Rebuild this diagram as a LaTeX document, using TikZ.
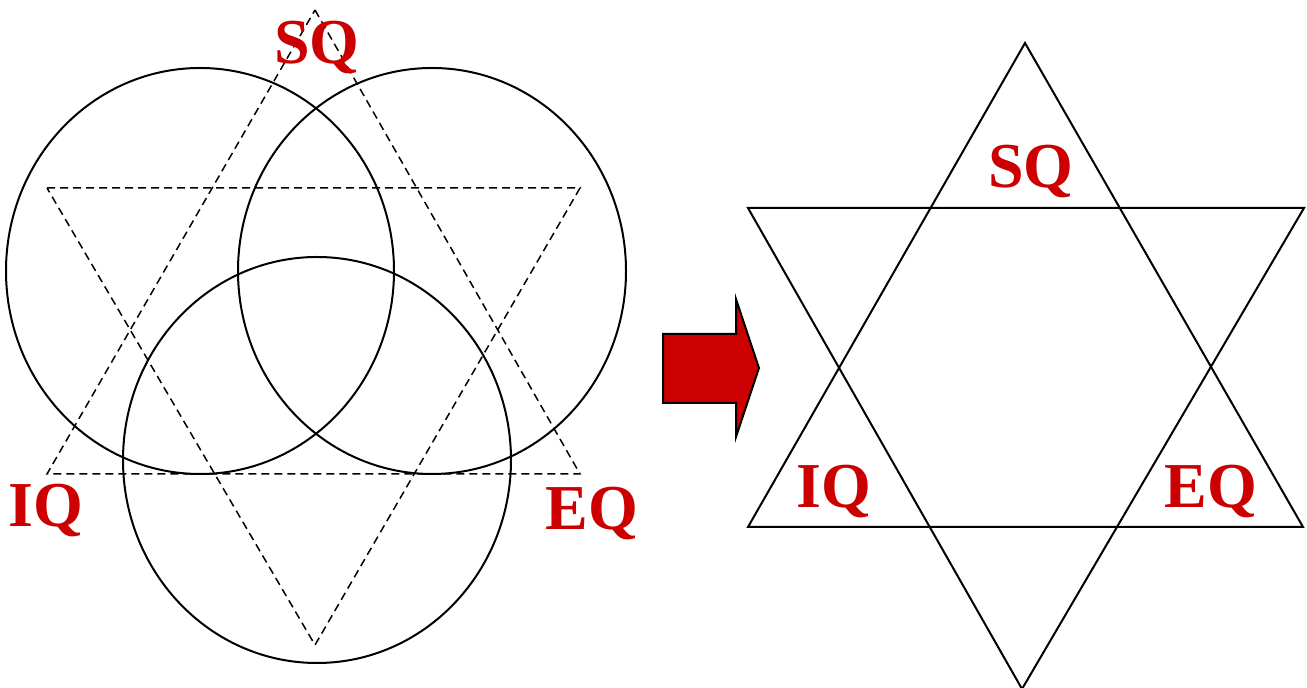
\documentclass[tikz,border=0pt]{standalone}
\usepackage{fontspec}
\setmainfont{Liberation Serif}
\definecolor{qred}{RGB}{204,0,0}
\begin{document}
\begin{tikzpicture}[x=0.5pt,y=0.5pt,yscale=-1,xscale=1,
	ring/.style={line width=1pt},
	tri/.style={dash pattern=on 4pt off 2.5pt, line width=0.75pt},
	star/.style={line width=1pt, line join=miter},
	qlabel/.style={anchor=base, inner sep=0pt, text=qred, font=\fontsize{32}{38}\selectfont\bfseries}]
	\useasboundingbox (0,0) rectangle (1307,688);
	%Shape: Ellipse [left]
	\draw [ring] (200,271) ellipse [x radius=194, y radius=203];
	%Shape: Ellipse [right]
	\draw [ring] (432,271) ellipse [x radius=194, y radius=203];
	%Shape: Ellipse [bottom]
	\draw [ring] (317,460) ellipse [x radius=194, y radius=203];
	%Shape: Triangle dashed, up
	\draw [tri] (315,10) -- (580,474) -- (47,474) -- cycle ;
	%Shape: Triangle dashed, down
	\draw [tri] (47,188) -- (580,188) -- (315,645) -- cycle ;
	\draw (317,64) node [qlabel] (sqL) {SQ};
	\draw (46,527) node [qlabel] (iqL) {IQ};
	\draw (592,530) node [qlabel] (eqL) {EQ};
	%Shape: Right Arrow
	\draw [fill=qred, line width=1pt, line join=miter] (663,334) -- (736,334) -- (736,299) -- (759,368) -- (736,437) -- (736,403) -- (663,403) -- cycle ;
	%Shape: Triangle, up
	\draw [star] (1025,43) -- (1303,527) -- (748,527) -- cycle ;
	%Shape: Triangle, down
	\draw [star] (748,208) -- (1304,208) -- (1022,689) -- cycle ;
	\draw (1031,188) node [qlabel] (sqR) {SQ};
	\draw (834,508) node [qlabel] (iqR) {IQ};
	\draw (1211,508) node [qlabel] (eqR) {EQ};
\end{tikzpicture}
\end{document}
